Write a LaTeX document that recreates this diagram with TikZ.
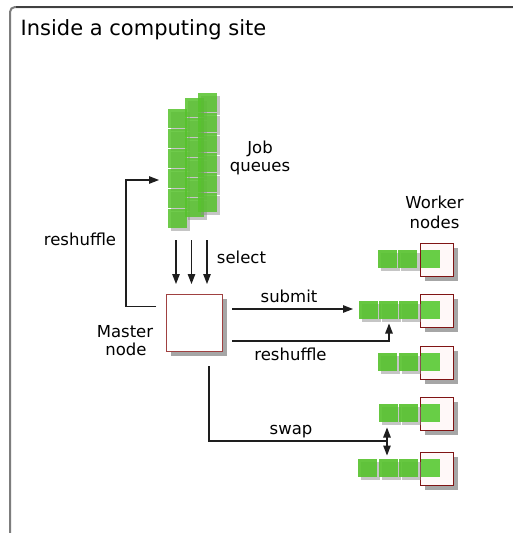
\documentclass[tikz,border=0pt]{standalone}
\usepackage{fontspec}
\setmainfont{DejaVu Sans}
\usetikzlibrary{arrows.meta,shadows}
\definecolor{qgreen}{RGB}{86,194,44}
\definecolor{igreen}{RGB}{104,206,70}
\definecolor{boxred}{RGB}{128,20,20}
\definecolor{mred}{RGB}{160,65,65}
\definecolor{boxfill}{RGB}{255,248,248}
\definecolor{framecol}{RGB}{125,125,125}
\definecolor{linecol}{RGB}{30,30,30}
\begin{document}
\begin{tikzpicture}[x=1pt,y=-1pt,
  lbl/.style={font=\fontsize{16.5}{19}\selectfont, inner sep=0pt, anchor=base},
  shad/.style={general shadow={fill=black!45, opacity=0.5, shadow xshift=3pt, shadow yshift=-3pt}},
  qsq/.style={anchor=north west, minimum width=18.5pt, minimum height=18.5pt, inner sep=0pt, shad, fill=qgreen, fill opacity=0.85},
  wsq/.style={anchor=north west, minimum width=19pt, minimum height=18pt, inner sep=0pt, shad, fill=qgreen, fill opacity=0.9},
  isq/.style={anchor=north west, minimum width=19pt, minimum height=18pt, inner sep=0pt, fill=igreen},
  wbox/.style={anchor=north west, minimum width=33pt, minimum height=33pt, inner sep=0pt, draw=boxred, line width=1.4pt, fill=boxfill,
    general shadow={fill=black!35, shadow xshift=4pt, shadow yshift=-4pt}},
  mbox/.style={anchor=north west, minimum width=56pt, minimum height=57pt, inner sep=0pt, draw=mred, line width=1.2pt, fill=white,
    general shadow={fill=black!35, shadow xshift=4pt, shadow yshift=-4pt}},
  conn/.style={draw=linecol, line width=1.2pt, -{Triangle[length=10pt,width=7.5pt]}},
  line/.style={draw=linecol, line width=1.2pt}
]
\useasboundingbox (0,0) rectangle (512,533);
\fill[white] (0,0) rectangle (512,533);
% frame
\draw[framecol, line width=2pt, rounded corners=5pt] (10,560) -- (10,7) -- (540,7);
\draw[black!75, line width=1.3pt] (16,7) -- (540,7);
\node[lbl, anchor=base west, font=\fontsize{21}{25}\selectfont] (title) at (20.5,35) {Inside a computing site};

% job queues
\foreach \c/\x/\y in {1/168/109, 2/185/98, 3/198/93}
  \foreach \k in {0,...,5}
    \node[qsq] (q\c-\k) at (\x,{\y+20*\k}) {};

\node[lbl] (jq1) at (260,153) {Job};
\node[lbl] (jq2) at (260,171.5) {queues};

% master node
\node[mbox] (m) at (166,294) {};
\node[lbl] (ms1) at (125,337) {Master};
\node[lbl] (ms2) at (126,355) {node};

% worker nodes
\foreach \r/\y in {1/243,2/294,3/346,4/397,5/452} {
  \node[wbox] (w\r) at (420,\y) {};
  \node[isq] (i\r) at (421,{\y+7}) {};
}
\node[wsq] (a1) at (378,250) {};
\node[wsq] (b1) at (398,250) {};
\node[wsq] (a2) at (359,301) {};
\node[wsq] (b2) at (379,301) {};
\node[wsq] (c2) at (399,301) {};
\node[wsq] (a3) at (378,353) {};
\node[wsq] (b3) at (399,353) {};
\node[wsq] (a4) at (379,404) {};
\node[wsq] (b4) at (399,404) {};
\node[wsq] (a5) at (358,459) {};
\node[wsq] (b5) at (379,459) {};
\node[wsq] (c5) at (399,459) {};
\node[lbl] (wk1) at (434.5,208) {Worker};
\node[lbl] (wk2) at (434.5,228) {nodes};

% select arrows
\coordinate (s1a) at (176,240); \coordinate (s1b) at (176,284);
\coordinate (s2a) at (191.5,240); \coordinate (s2b) at (191.5,284);
\coordinate (s3a) at (207,240); \coordinate (s3b) at (207,284);
\draw[conn] (s1a) -- (s1b);
\draw[conn] (s2a) -- (s2b);
\draw[conn] (s3a) -- (s3b);
\node[lbl] (sel) at (241.5,263) {select};

% reshuffle (left loop)
\coordinate (r1a) at (156,306.5);
\coordinate (r1b) at (126,306.5);
\coordinate (r1c) at (126,180);
\coordinate (r1d) at (159,180);
\draw[conn] (r1a) -- (r1b) -- (r1c) -- (r1d);
\node[lbl] (rs1) at (80,245) {reshuffle};

% submit
\coordinate (sa) at (232,309);
\coordinate (sb) at (353,309);
\draw[conn] (sa) -- (sb);
\node[lbl] (sub) at (289,302) {submit};

% reshuffle (right)
\coordinate (r2a) at (232,341);
\coordinate (r2b) at (389,341);
\coordinate (r2c) at (389,323.5);
\draw[conn] (r2a) -- (r2b) -- (r2c);
\node[lbl] (rs2) at (290.5,360) {reshuffle};

% swap
\coordinate (wa) at (209,366);
\coordinate (wb) at (209,441);
\coordinate (wc) at (387,441);
\draw[line] (wa) -- (wb) -- (wc);
\coordinate (wu) at (387,427.5);
\coordinate (wd) at (387,455.5);
\draw[draw=linecol, line width=1.2pt, {Triangle[length=10pt,width=7.5pt]}-{Triangle[length=10pt,width=7.5pt]}] (wd) -- (wu);
\node[lbl] (swp) at (291,434) {swap};
\end{tikzpicture}
\end{document}
